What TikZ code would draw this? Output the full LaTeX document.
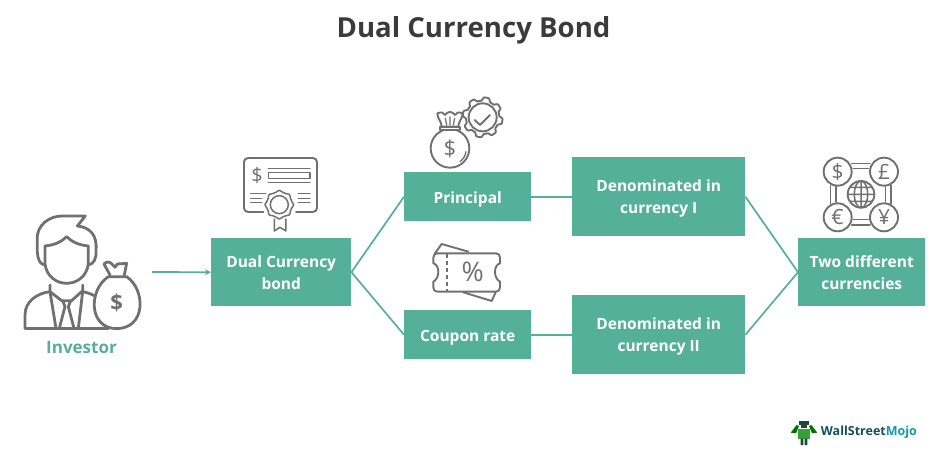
\documentclass[tikz,border=0pt]{standalone}
\usepackage{fontspec}
\setmainfont{Open Sans}
\usetikzlibrary{arrows.meta}
\definecolor{teal1}{HTML}{55B09A}
\definecolor{icon}{HTML}{707070}
\definecolor{ttl}{HTML}{3B3B3B}
\tikzset{
  box/.style={fill=teal1,text=white,font=\bfseries\fontsize{15.5}{22}\selectfont,align=center,inner sep=0pt,anchor=north west},
  oneline/.style={text height=13pt,text depth=0pt},
  link/.style={draw=teal1,line width=1.7pt},
  ico/.style={draw=icon,line width=1.9pt,line join=round,line cap=round},
  glyph/.style={text=icon,inner sep=0pt,font=\fontsize{#1}{#1}\selectfont},
  z1/.style={shift={(0,140)},x=0.3333pt,y=-0.3333pt},
  z2/.style={shift={(400,85)},x=0.3333pt,y=-0.3333pt},
  z3/.style={shift={(790,140)},x=0.3333pt,y=-0.3333pt},
  z4/.style={shift={(770,400)},x=0.3333pt,y=-0.3333pt}
}
\begin{document}
\begin{tikzpicture}[x=1pt,y=-1pt]
\useasboundingbox (0,0) rectangle (949,464);
\node[text=ttl,font=\bfseries\fontsize{27.6}{30}\selectfont,inner sep=0pt] (title) at (473.5,30) {Dual Currency Bond};
\node[box,minimum width=140pt,minimum height=68pt] (dual) at (211,238) {Dual Currency\\bond};
\node[box,oneline,minimum width=127pt,minimum height=49pt] (prin) at (404,172) {Principal};
\node[box,oneline,minimum width=127pt,minimum height=49pt] (coup) at (404,310) {Coupon rate};
\node[box,minimum width=173pt,minimum height=79pt] (den1) at (572,157) {\rule{0pt}{16pt}Denominated in\\currency I};
\node[box,minimum width=173pt,minimum height=79pt] (den2) at (572,295) {\rule{0pt}{16pt}Denominated in\\currency II};
\node[box,minimum width=127pt,minimum height=68pt] (two) at (798,238) {Two different\\currencies};
\node[text=teal1,font=\bfseries\fontsize{17}{20}\selectfont,inner sep=0pt] (inv) at (81.5,348) {Investor};
\coordinate (start) at (152,272);
\draw[link,-{Stealth[length=6pt,width=6pt]}] (start) -- (dual.west);
\draw[link] (dual.east) -- (prin.west);
\draw[link] (dual.east) -- (coup.west);
\draw[link] (prin.east) -- (prin.east -| den1.west);
\draw[link] (coup.east) -- (coup.east -| den2.west);
\draw[link] (den1.east) -- (two.west);
\draw[link] (den2.east) -- (two.west);
% investor
\begin{scope}[z1,ico,line width=2.8pt]
\draw (135,375) .. controls (112,372) and (110,340) .. (112,300) .. controls (108,255) and (150,226) .. (190,228) -- (256,228) -- (232,258) .. controls (270,262) and (292,285) .. (288,330) .. controls (290,355) and (282,372) .. (265,375);
\draw (135,318) .. controls (165,315) and (185,305) .. (200,290) .. controls (215,305) and (235,315) .. (265,318);
\draw (135,318) -- (135,372) .. controls (140,410) and (170,430) .. (200,430) .. controls (230,430) and (260,410) .. (265,372) -- (265,318);
\draw (75,565) -- (75,525) .. controls (75,485) and (110,460) .. (150,455) -- (150,435);
\draw (248,435) -- (248,455) .. controls (265,458) and (280,465) .. (292,472);
\draw (75,565) -- (325,565);
\draw (150,455) -- (185,482) -- (215,482) -- (248,452);
\draw (150,455) -- (168,565);
\draw (248,455) -- (235,565);
\draw (188,482) -- (195,500) -- (178,565);
\draw (212,482) -- (205,500) -- (222,565);
% bag
\draw[fill=white] (325,410) .. controls (265,450) and (265,565) .. (350,566) .. controls (438,565) and (438,450) .. (380,410) -- cycle;
\draw (330,405) -- (312,372) .. controls (325,358) and (335,370) .. (345,382) -- (352,372) -- (380,370) -- (373,405);
\node[glyph=22,font=\bfseries\fontsize{22}{22}\selectfont] (d1) at (350,488) {\$};
\end{scope}
% certificate
\begin{scope}[z1]
\draw[ico] (790,216) -- (745,216) .. controls (737,216) and (732,211) .. (732,204) -- (732,66) .. controls (732,59) and (737,54) .. (745,54) -- (938,54) .. controls (946,54) and (951,59) .. (951,66) -- (951,204) .. controls (951,211) and (946,216) .. (938,216) -- (888,216);
\node[glyph=20] (d2) at (771,107) {\$};
\draw[ico,line width=1.5pt] (805,85) -- (930,85) (805,98) rectangle (930,116) (805,128) -- (930,128) (752,160) -- (797,160) (752,175) -- (785,175) (752,188) -- (785,188) (895,160) -- (930,160) (895,175) -- (930,175) (895,188) -- (930,188);
\draw[ico,line width=1.5pt,fill=white] plot[smooth cycle,domain=0:345,samples=24] ({838+(40+3*cos(8*\x))*cos(\x)},{194+(40+3*cos(8*\x))*sin(\x)});
\draw[ico,line width=1.5pt] (838,194) circle[radius=27];
\draw[ico,line width=1.5pt] (823,237) -- (823,273) -- (840,262) -- (858,273) -- (858,237);
\end{scope}
% bag and gear
\begin{scope}[z2]
\draw[ico] plot[domain=0:360,samples=145] ({248+(55+5*max(-1,min(1,2*sin(8*\x))))*cos(\x)},{97+(55+5*max(-1,min(1,2*sin(8*\x))))*sin(\x)});
\draw[ico,fill=white] (248,97) circle[radius=42];
\draw[ico] (224,105) -- (240,120) -- (270,90);
\draw[ico,fill=white] (150,190) circle[radius=58];
\draw[ico,line width=1.3pt] (180,230) .. controls (190,222) and (196,212) .. (198,200);
\draw[ico,fill=white] (120,125) -- (180,125) -- (180,135) -- (120,135) -- cycle;
\draw[ico,fill=white] (125,125) .. controls (125,110) and (112,100) .. (112,85) .. controls (125,80) and (130,82) .. (135,90) .. controls (142,78) and (158,78) .. (165,90) .. controls (170,82) and (175,80) .. (188,85) .. controls (188,100) and (175,110) .. (175,125) -- cycle;
\draw[ico,line width=1.3pt] (140,120) -- (136,100) (150,120) -- (150,95) (160,120) -- (164,100);
\node[glyph=22] (d3) at (150,192) {\$};
\end{scope}
% ticket
\begin{scope}[z2]
\draw[ico] (105,505) -- (125,477) -- (205,500);
\draw[ico] (190,622) -- (275,648) -- (287,622);
\draw[ico] (112,505) -- (288,505) .. controls (296,505) and (300,510) .. (300,518) -- (300,535) .. controls (280,540) and (280,580) .. (300,590) -- (300,607) .. controls (300,615) and (296,620) .. (288,620) -- (112,620) .. controls (104,620) and (100,615) .. (100,607) -- (100,590) .. controls (120,580) and (120,540) .. (100,535) -- (100,518) .. controls (100,510) and (104,505) .. (112,505) -- cycle;
\draw[ico,dash pattern=on 4pt off 3pt,line cap=butt] (142,507) -- (142,618);
\node[glyph=27] (pct) at (218,562) {\%};
\end{scope}
% currencies
\begin{scope}[z3]
\draw[ico,line width=1.5pt] (185,70) -- (240,70) (190,86) -- (235,86) (185,255) -- (240,255) (190,238) -- (235,238) (122,135) -- (122,192) (138,140) -- (138,186) (303,135) -- (303,192) (287,140) -- (287,186);
\draw[ico] (213,163) circle[radius=40];
\draw[ico,line width=1.5pt] (213,163) ellipse[x radius=20,y radius=40] (213,123) -- (213,203) (173,163) -- (253,163) (179,142) -- (247,142) (179,184) -- (247,184);
\foreach \cx/\cy/\nm/\sy in {143/95/ca/\$,282/95/cb/£,143/232/cc/€,282/232/cd/¥}{
  \draw[ico,fill=white] (\cx,\cy) circle[radius=42];
  \node[glyph=21] (\nm) at (\cx,\cy) {\sy};
}
\end{scope}
% logo
\begin{scope}[z4]
\fill[teal1!20!black!75!teal1] (87,64) rectangle (117,76);
\fill[teal1!20!black!75!teal1] (93,76) rectangle (111,84);
\fill[green!55!black!80!white] (84,88) rectangle (120,116);
\fill[green!45!black] (62,98) -- (80,75) -- (87,78) -- (78,100) -- cycle;
\fill[green!45!black] (142,98) -- (124,75) -- (117,78) -- (126,100) -- cycle;
\fill[teal1!20!black!75!teal1] (92,116) rectangle (100,135) (104,116) rectangle (112,135);
\node[inner sep=0pt,anchor=west,font=\bfseries\fontsize{12.5}{14}\selectfont] (logo) at (152,97) {\textcolor[HTML]{12505C}{WallStreet}\textcolor[HTML]{1499A5}{Mojo}};
\end{scope}
\end{tikzpicture}
\end{document}
